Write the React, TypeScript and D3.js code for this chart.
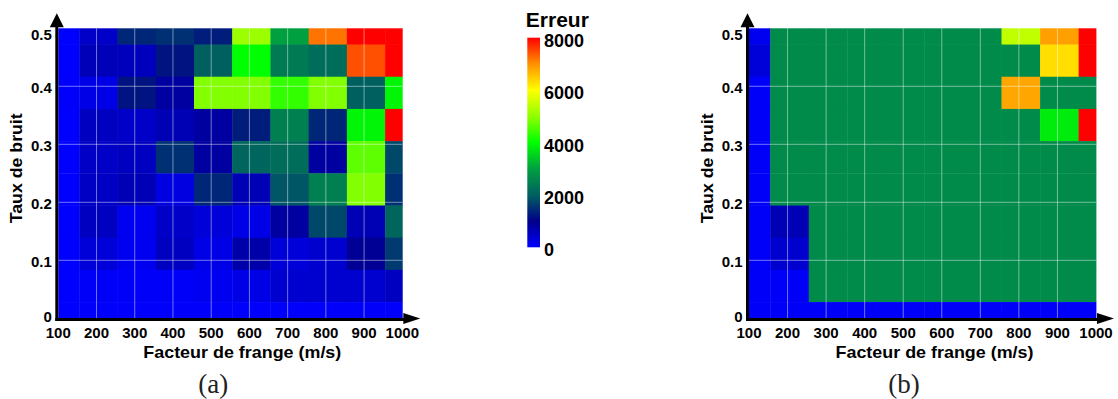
import React from "react";
import * as d3 from "d3";

// ---- data ----
const xValues = [100, 200, 300, 400, 500, 600, 700, 800, 900, 1000];
// rows listed from the top of the map (Taux de bruit = 0.5) down to 0
const yValues = [0.5, 0.444, 0.389, 0.333, 0.278, 0.222, 0.167, 0.111, 0.056, 0];

const errorA = [
  [0, 460, 1400, 1500, 1300, 5100, 3000, 7200, 8000, 8000],
  [0, 600, 560, 1200, 2000, 4000, 2400, 2200, 7450, 8000],
  [30, 200, 1200, 800, 4900, 4900, 4350, 4900, 2000, 3900],
  [0, 530, 460, 630, 800, 1300, 2500, 1400, 3900, 8000],
  [0, 480, 530, 1500, 800, 2100, 2200, 800, 4650, 1750],
  [0, 500, 630, 250, 1400, 630, 1900, 2500, 4900, 1500],
  [0, 530, 130, 460, 330, 200, 800, 1750, 630, 2100],
  [0, 330, 130, 530, 200, 730, 330, 400, 900, 1600],
  [0, 50, 50, 50, 130, 200, 400, 400, 400, 530],
  [0, 30, 30, 30, 30, 30, 30, 30, 30, 30],
];

const errorB = [
  [130, 2670, 2670, 2670, 2670, 2670, 2670, 5430, 6860, 8000],
  [330, 2670, 2670, 2670, 2670, 2670, 2670, 2670, 6300, 8000],
  [50, 2670, 2670, 2670, 2670, 2670, 2670, 6790, 2670, 2670],
  [50, 2670, 2670, 2670, 2670, 2670, 2670, 2670, 3800, 8000],
  [50, 2670, 2670, 2670, 2670, 2670, 2670, 2670, 2670, 2670],
  [50, 2670, 2670, 2670, 2670, 2670, 2670, 2670, 2670, 2670],
  [50, 630, 2670, 2670, 2670, 2670, 2670, 2670, 2670, 2670],
  [50, 400, 2670, 2670, 2670, 2670, 2670, 2670, 2670, 2670],
  [50, 50, 2670, 2670, 2670, 2670, 2670, 2670, 2670, 2670],
  [50, 50, 50, 50, 50, 50, 50, 50, 50, 50],
];

const xTicks = [100, 200, 300, 400, 500, 600, 700, 800, 900, 1000];
const yTicks = [0, 0.1, 0.2, 0.3, 0.4, 0.5];
const colorTicks = [0, 2000, 4000, 6000, 8000];
const colorStops = [0, 1000, 2000, 3000, 4000, 5000, 6000, 7000, 8000];
const colorRange = [
  "#0000ff", "#000088", "#006060", "#00a040", "#00ff00",
  "#90ff00", "#ffff00", "#ff9000", "#ff0000",
];

const xTitle = "Facteur de frange (m/s)";
const yTitle = "Taux de bruit";
const cbTitle = "Erreur";

// ---- helpers ----
const color = d3
  .scaleLinear<string>()
  .domain(colorStops)
  .range(colorRange)
  .interpolate(d3.interpolateRgb)
  .clamp(true);

const X_SHIFT = 5; // rendering offset of the cell edges (m/s)

function edges(vals: number[], lo: number, hi: number, shift: number) {
  const v = [...vals].sort((a, b) => a - b);
  const e = [lo];
  for (let i = 1; i < v.length; i++) e.push((v[i - 1] + v[i]) / 2 + shift);
  e.push(hi);
  return { sorted: v, e };
}

const FONT = "'Liberation Sans', Arial, sans-serif";

function Heatmap({
  left, right, top, bottom, data, label,
}: {
  left: number; right: number; top: number; bottom: number;
  data: number[][]; label: string;
}) {
  const x = d3.scaleLinear().domain([100, 1000]).range([left, right]);
  const y = d3.scaleLinear().domain([0, 0.5]).range([bottom, top]);
  const xe = edges(xValues, 100, 1000, X_SHIFT);
  const ye = edges(yValues, 0, 0.5, 0);

  const cells: React.ReactNode[] = [];
  yValues.forEach((yv, ri) => {
    const yi = ye.sorted.indexOf(yv);
    const y0 = ye.e[yi], y1 = ye.e[yi + 1];
    xValues.forEach((xv, ci) => {
      const xi = xe.sorted.indexOf(xv);
      const x0 = xe.e[xi], x1 = xe.e[xi + 1];
      cells.push(
        <rect
          key={`${ri}-${ci}`}
          x={x(x0)}
          y={y(y1)}
          width={x(x1) - x(x0) + 0.4}
          height={y(y0) - y(y1) + 0.4}
          fill={color(data[ri][ci])}
        />
      );
    });
  });

  const axisX = left - 1.5;
  const axisY = bottom + 1.2;
  const cx = (left + right) / 2 + 12;
  const cy = (top + bottom) / 2 - 5;

  return (
    <g>
      {cells}
      {/* grid */}
      {xTicks.slice(1, -1).map((t) => (
        <line key={"gx" + t} x1={x(t)} x2={x(t)} y1={top} y2={bottom}
          stroke="#ffffff" strokeOpacity={0.45} strokeWidth={1} />
      ))}
      {yTicks.slice(1, -1).map((t) => (
        <line key={"gy" + t} x1={left} x2={right} y1={y(t)} y2={y(t)}
          stroke="#ffffff" strokeOpacity={0.45} strokeWidth={1} />
      ))}
      {/* axes */}
      <line x1={axisX} x2={axisX} y1={axisY + 1.5} y2={top - 2} stroke="#000" strokeWidth={3} />
      <path d={`M${axisX},${top - 15} L${axisX - 7},${top - 1} L${axisX + 7},${top - 1} Z`} fill="#000" />
      <line x1={axisX - 1.5} x2={right + 2} y1={axisY} y2={axisY} stroke="#000" strokeWidth={3} />
      <path d={`M${right + 18},${axisY - 1} L${right + 1},${axisY - 6.5} L${right + 1},${axisY + 4.5} Z`} fill="#000" />
      {/* tick labels */}
      {yTicks.map((t) => (
        <text key={"ty" + t} x={left - 6.5}
          y={Math.min(Math.max(y(t), top + 5) + 1, bottom - 2)}
          textAnchor="end" dominantBaseline="central"
          fontFamily={FONT} fontWeight="bold" fontSize={15} fill="#000">
          {t === 0 ? "0" : t.toFixed(1)}
        </text>
      ))}
      {xTicks.map((t) => (
        <text key={"tx" + t} x={x(t)} y={bottom + 20}
          textAnchor="middle" fontFamily={FONT} fontWeight="bold" fontSize={15} fill="#000">
          {t}
        </text>
      ))}
      {/* titles */}
      <text x={cx} y={bottom + 39.5} textAnchor="middle" fontFamily={FONT}
        fontWeight="bold" fontSize={17} fill="#000" textLength={198} lengthAdjust="spacingAndGlyphs">
        {xTitle}
      </text>
      <text transform={`translate(${left - 36},${cy}) rotate(-90)`} textAnchor="middle"
        fontFamily={FONT} fontWeight="bold" fontSize={17} fill="#000" textLength={110}
        lengthAdjust="spacingAndGlyphs">
        {yTitle}
      </text>
      <text x={left + 155} y={393} textAnchor="middle"
        fontFamily="'Liberation Serif', 'Times New Roman', serif" fontSize={27} fill="#222">
        {label}
      </text>
    </g>
  );
}

function ColorBar({ x0, y0, w, h }: { x0: number; y0: number; w: number; h: number }) {
  const s = d3.scaleLinear().domain([0, 8000]).range([y0 + h, y0]);
  return (
    <g>
      <defs>
        <linearGradient id="cbgrad" x1="0" y1="1" x2="0" y2="0">
          {colorStops.map((v, i) => (
            <stop key={v} offset={`${(v / 8000) * 100}%`} stopColor={colorRange[i]} />
          ))}
        </linearGradient>
      </defs>
      <rect x={x0} y={y0} width={w} height={h} fill="url(#cbgrad)" />
      {colorTicks.map((t) => (
        <text key={t} x={x0 + w + 4} y={s(t) + 3} dominantBaseline="central"
          fontFamily={FONT} fontWeight="bold" fontSize={18} fill="#000">
          {t}
        </text>
      ))}
      <text x={x0 + 30} y={26.7} textAnchor="middle" fontFamily={FONT} fontWeight="bold"
        fontSize={21} fill="#000">
        {cbTitle}
      </text>
    </g>
  );
}

export default function App() {
  return (
    <svg width={1118} height={399} style={{ position: "absolute", left: 0, top: 0, background: "#fff" }}>
      <Heatmap left={58.3} right={402.3} top={28.3} bottom={318.3} data={errorA} label="(a)" />
      <Heatmap left={749} right={1096} top={28.3} bottom={318.3} data={errorB} label="(b)" />
      <ColorBar x0={527.3} y0={37.7} w={12.7} h={209.6} />
    </svg>
  );
}
